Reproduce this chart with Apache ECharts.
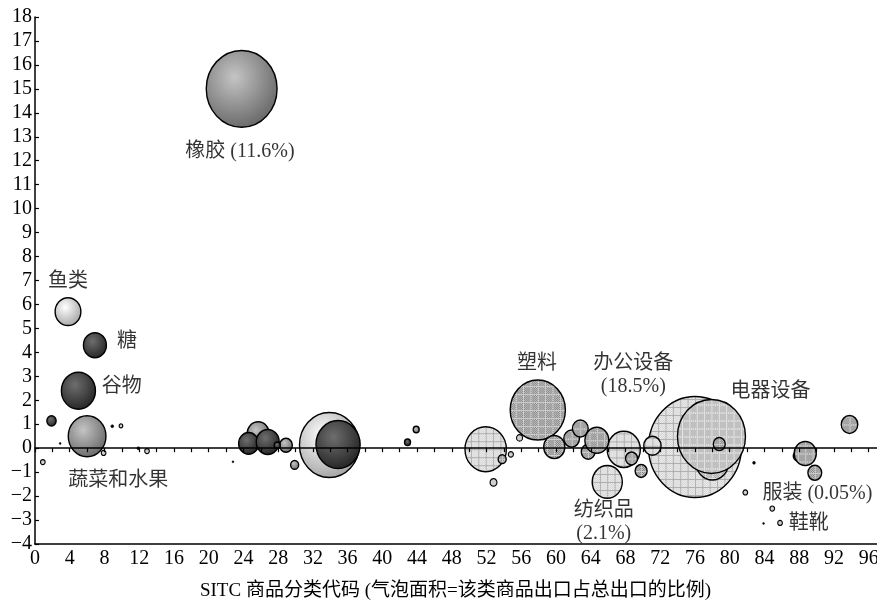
<!DOCTYPE html>
<html>
<head>
<meta charset="utf-8">
<script src="https://cdn.jsdelivr.net/npm/echarts@6/dist/echarts.min.js"></script>
<style>
  html, body { margin: 0; padding: 0; background: #fff; }
  #chart { width: 877px; height: 603px; }
</style>
</head>
<body>
<div id="chart"></div>
<script>
  // each point: [SITC code, y value, export share %]
  let gridBubbles = [[76.0, 0.05, 20.0], [51.9, -0.04, 3.96], [67.8, -0.05, 2.54], [65.9, -1.41, 2.1], [71.1, 0.1, 0.7]];
  let lightDotBubbles = [[78.0, -0.58, 2.54], [77.9, 0.49, 10.7]];
  let midDotBubbles = [[57.9, 1.59, 7.05], [59.8, 0.05, 1.04], [61.8, 0.4, 0.57], [62.8, 0.82, 0.57], [63.7, -0.15, 0.44],
    [64.7, 0.33, 1.32], [68.7, -0.43, 0.33], [69.8, -0.95, 0.33], [53.8, -0.46, 0.15], [78.8, 0.17, 0.33],
    [87.8, -0.33, 0.16], [88.7, -0.22, 1.13], [89.8, -1.03, 0.44], [93.8, 0.99, 0.63]];
  let lightSpheres = [[3.8, 5.7, 1.53], [33.9, 0.13, 8.27]];
  let graySpheres = [[23.8, 15.0, 11.6], [6.0, 0.5, 3.29], [25.7, 0.6, 1.13], [28.9, 0.12, 0.38], [29.9, -0.7, 0.15], [43.9, 0.78, 0.083]];
  let darkSpheres = [[5.0, 2.4, 2.68], [6.9, 4.3, 1.22], [1.9, 1.14, 0.2], [24.6, 0.2, 0.92], [26.8, 0.26, 1.22],
    [27.9, 0.12, 0.083], [34.9, 0.15, 4.51], [42.9, 0.25, 0.083]];
  let smallRings = [[0.9, -0.58, 0.05], [7.9, -0.2, 0.05], [9.9, 0.93, 0.031], [12.9, -0.12, 0.05], [54.8, -0.26, 0.06],
    [52.8, -1.43, 0.11], [55.8, 0.43, 0.083], [81.8, -1.85, 0.05], [84.9, -2.52, 0.05], [85.8, -3.12, 0.05]];
  let tinyDots = [[2.9, 0.2, 0.008], [8.9, 0.92, 0.018], [11.9, 0.0, 0.018], [22.8, -0.57, 0.008], [82.8, -0.61, 0.018], [83.9, -3.14, 0.008]];

  let labelText = ['橡胶 (11.6%)', '鱼类', '糖', '谷物', '蔬菜和水果', '塑料', '办公设备\n(18.5%)', '纺织品\n(2.1%)', '电器设备', '服装 (0.05%)', '鞋靴'];
  let labelX = [23.6, 3.8, 10.6, 10.0, 9.6, 57.8, 68.9, 65.5, 84.7, 90.1, 89.1];
  let labelY = [12.36, 6.94, 4.44, 2.56, -1.38, 3.54, 3.06, -3.11, 2.35, -1.89, -3.14];

  let xTicks = {min: 0, max: 98, step: 4};
  let yTicks = {min: -4, max: 18, step: 1};

  let serif = 'Liberation Serif, "Noto Sans CJK SC"';

  function makePattern(base, dot, line, step) {
    let c = document.createElement('canvas');
    c.width = step; c.height = step;
    let g = c.getContext('2d');
    g.fillStyle = base; g.fillRect(0, 0, step, step);
    g.fillStyle = dot;
    for (let i = 0; i < step; i++)
      for (let j = 0; j < step; j++)
        if ((i + j) % 2 == 0) g.fillRect(i, j, 1, 1);
    if (line) {
      g.fillStyle = line;
      g.fillRect(0, 0, step, 1);
      g.fillRect(0, 0, 1, step);
    }
    return {image: c, repeat: 'repeat'};
  }

  function sphere(c0, c1) {
    return {type: 'radial', x: 0.4, y: 0.35, r: 0.75, colorStops: [{offset: 0, color: c0}, {offset: 1, color: c1}]};
  }

  // bubble area ~ export share, drawn as real-pixel circles so the patterns are not stretched
  function bubbles(data, fill, bw) {
    return {
      type: 'custom',
      data: data,
      silent: true,
      renderItem: function (params, api) {
        let p = api.coord([api.value(0), api.value(1)]);
        let h = 22.6 * Math.sqrt(api.value(2));
        return {
          type: 'circle',
          x: p[0], y: p[1], scaleX: 0.92,
          shape: {cx: 0, cy: 0, r: h / 2},
          style: {fill: fill, stroke: '#000', lineWidth: bw, strokeNoScale: true}
        };
      }
    };
  }

  let chart = echarts.init(document.getElementById('chart'));
  let option = {
    animation: false,
    backgroundColor: '#fff',
    grid: {left: 35, right: -9, top: 17, bottom: 59, containLabel: false, outerBoundsMode: 'none'},
    xAxis: [
      {
        type: 'value', position: 'bottom', min: xTicks.min, max: xTicks.max, interval: xTicks.step,
        axisLine: {onZero: false, lineStyle: {color: '#000', width: 1.5}},
        axisTick: {show: false},
        splitLine: {show: false},
        axisLabel: {color: '#000', fontFamily: serif, fontSize: 20, margin: 5, showMaxLabel: false},
        name: 'SITC 商品分类代码 (气泡面积=该类商品出口占总出口的比例)',
        nameLocation: 'middle', nameGap: 38,
        nameTextStyle: {color: '#000', fontFamily: serif, fontSize: 19, padding: [0, 10, 0, 0]}
      },
      {
        type: 'value', position: 'bottom', min: xTicks.min, max: xTicks.max, interval: 2, z: 10,
        axisLine: {onZero: true, lineStyle: {color: '#000', width: 1.5}},
        axisTick: {show: true, length: 4, lineStyle: {color: '#000', width: 1.2}},
        splitLine: {show: false},
        axisLabel: {show: false}
      }
    ],
    yAxis: {
      type: 'value', min: yTicks.min, max: yTicks.max, interval: yTicks.step,
      axisLine: {show: true, onZero: false, lineStyle: {color: '#000', width: 1.5}},
      axisTick: {show: true, inside: true, length: 4, lineStyle: {color: '#000', width: 1.2}},
      splitLine: {show: false},
      axisLabel: {
        color: '#000', fontFamily: serif, fontSize: 20, margin: 3,
        formatter: v => String(v).replace('-', '\u2212')
      }
    },
    series: [
      bubbles(gridBubbles, makePattern('#eeeeee', '#d4d4d4', '#b0b0b0', 8), 1.5),
      bubbles(lightDotBubbles, makePattern('#dcdcdc', '#a4a4a4', '#e6e6e6', 8), 1.5),
      bubbles(midDotBubbles, makePattern('#c6c6c6', '#828282', '#d0d0d0', 8), 1.5),
      bubbles(lightSpheres, sphere('#ffffff', '#9a9a9a'), 1.5),
      bubbles(graySpheres, sphere('#c4c4c4', '#5e5e5e'), 1.5),
      bubbles(darkSpheres, sphere('#6e6e6e', '#1c1c1c'), 1.5),
      bubbles(smallRings, '#cfcfcf', 1.2),
      bubbles(tinyDots, '#000', 0.5),
      {
        type: 'scatter',
        silent: true,
        symbolSize: 1,
        itemStyle: {color: 'rgba(0,0,0,0)'},
        data: labelText.map((t, i) => ({name: t, value: [labelX[i], labelY[i]]})),
        label: {
          show: true, position: 'inside', formatter: p => p.name,
          color: '#000', fontFamily: serif, fontSize: 20, lineHeight: 23
        }
      }
    ]
  };
  chart.setOption(option);
</script>
</body>
</html>
